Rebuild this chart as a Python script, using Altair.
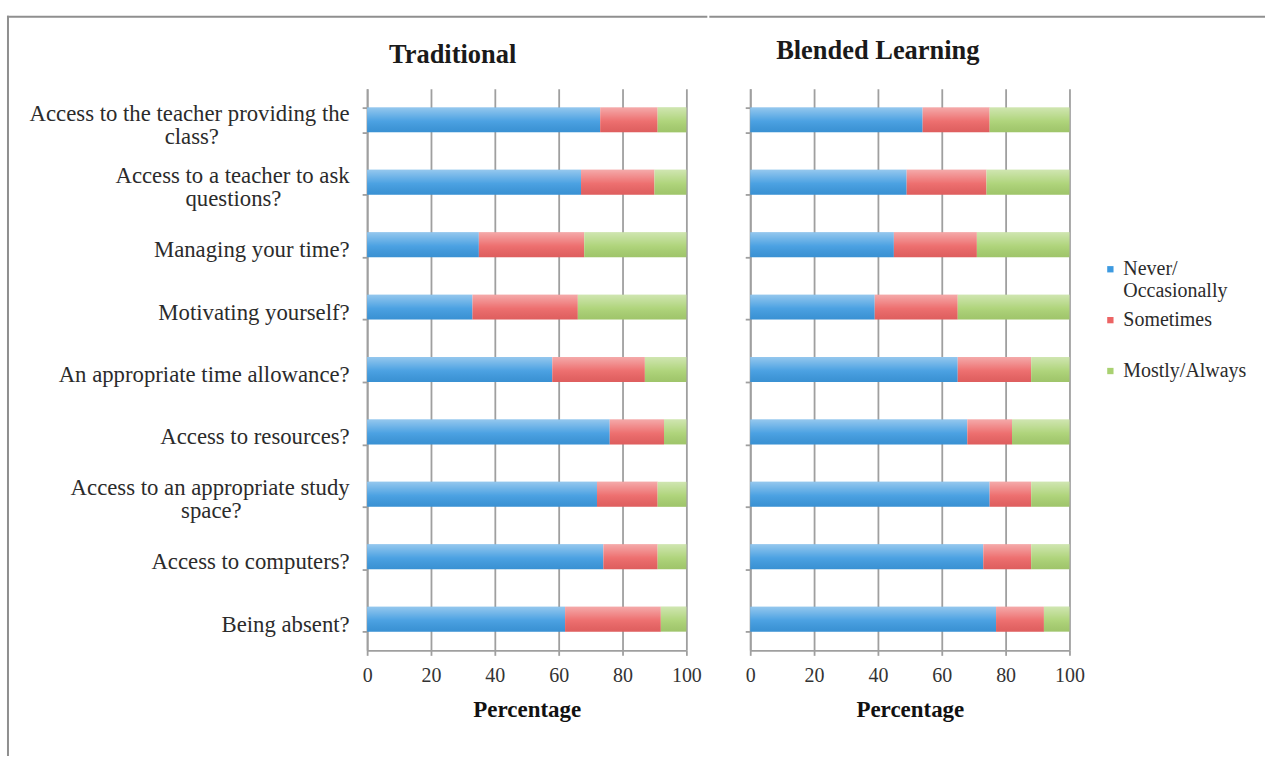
import json
import altair as alt
import pandas as pd

# ---------------- data ----------------
categories = [
    "Access to the teacher providing the class?",
    "Access to a teacher to ask questions?",
    "Managing your time?",
    "Motivating yourself?",
    "An appropriate time allowance?",
    "Access to resources?",
    "Access to an appropriate study space?",
    "Access to computers?",
    "Being absent?",
]
series = ["Never/ Occasionally", "Sometimes", "Mostly/Always"]
series_colors = ["#3d9ae0", "#ec6464", "#a9d171"]

trad_never = [73, 67, 35, 33, 58, 76, 72, 74, 62]
trad_sometimes = [18, 23, 33, 33, 29, 17, 19, 17, 30]
trad_mostly = [9, 10, 32, 34, 13, 7, 9, 9, 8]

blend_never = [54, 49, 45, 39, 65, 68, 75, 73, 77]
blend_sometimes = [21, 25, 26, 26, 23, 14, 13, 15, 15]
blend_mostly = [25, 26, 29, 35, 12, 18, 12, 12, 8]

panel_titles = ["Traditional", "Blended Learning"]
x_ticks = [0, 20, 40, 60, 80, 100]

NB = "\u00a0"
ZW = "\u200b"
wrapped_labels = {
    categories[0]: ["Access to the teacher providing the", "class?" + NB * 23 + ZW],
    categories[1]: ["Access to a teacher to ask", "questions?" + NB * 12 + ZW],
    categories[6]: ["Access to an appropriate study", "space?" + NB * 19 + ZW],
}


def long_frame(never, sometimes, mostly):
    rows = []
    for i, cat in enumerate(categories):
        for k, (name, vals) in enumerate(zip(series, [never, sometimes, mostly])):
            rows.append({"category": cat, "series": name, "order": k, "value": vals[i]})
    return pd.DataFrame(rows)


df_trad = long_frame(trad_never, trad_sometimes, trad_mostly)
df_blend = long_frame(blend_never, blend_sometimes, blend_mostly)

label_expr = "datum.label"
for k, v in wrapped_labels.items():
    label_expr = f"datum.label === {json.dumps(k, ensure_ascii=False)} ? {json.dumps(v, ensure_ascii=False)} : ({label_expr})"
wrapped_test = "indexof(" + json.dumps(list(wrapped_labels.keys())) + ", datum.value) >= 0"

FONT = "Liberation Serif"
GRID = "#9f9f9f"
FRAME = "#8f8f8f"

shade = alt.Gradient(
    gradient="linear",
    x1=0, x2=0, y1=0, y2=1,
    stops=[
        alt.GradientStop(color="rgba(255,255,255,0.45)", offset=0),
        alt.GradientStop(color="rgba(255,255,255,0.08)", offset=0.55),
        alt.GradientStop(color="rgba(0,0,0,0.06)", offset=1),
    ],
)

one_row = alt.Data(values=[{"k": 0}])


def frame_rule(**enc):
    return alt.Chart(one_row).mark_rule(color=FRAME, strokeWidth=2, strokeCap="square").encode(**enc)


def panel(df, title, left, title_dx, title_offset, extras):
    if left:
        y_axis = alt.Axis(
            title=None, labelExpr=label_expr, labelFont=FONT, labelFontSize=22.8,
            labelColor="#2b2b2b", labelLimit=400, labelPadding=13,
            labelOffset={"condition": {"test": wrapped_test, "value": -6.5}, "value": 5},
            labelLineHeight=23, tickSize=5, tickColor=GRID, tickWidth=1.8,
            domainColor=GRID, domainWidth=1.8, tickBand="extent",
            minExtent=360, maxExtent=360,
        )
    else:
        y_axis = alt.Axis(
            title=None, labels=False, tickSize=5, tickColor=GRID, tickWidth=1.8,
            domainColor=GRID, domainWidth=1.8, tickBand="extent",
            minExtent=5, maxExtent=5,
        )
    x_axis = alt.Axis(
        values=x_ticks, grid=True, gridColor=GRID, gridWidth=1.8,
        tickColor=GRID, tickWidth=1.8, tickSize=5, domainColor=GRID, domainWidth=1.8,
        labelFont=FONT, labelFontSize=20, labelColor="#333", labelPadding=10,
        labelFlush=False,
        title="Percentage", titleFont=FONT, titleFontSize=23, titleFontWeight="bold",
        titleColor="#111", titlePadding=13,
    )
    y_enc = alt.Y(
        "category:N", sort=categories,
        scale=alt.Scale(paddingInner=0.6, paddingOuter=0.3), axis=y_axis,
    )
    x_scale = alt.Scale(domain=[0, 100], nice=False)
    base = alt.Chart(df)
    bars = base.mark_bar().encode(
        y=y_enc,
        x=alt.X("value:Q", stack="zero", scale=x_scale, axis=x_axis),
        color=alt.Color(
            "series:N",
            scale=alt.Scale(domain=series, range=series_colors),
            legend=alt.Legend(
                title=None, orient="none", legendX=735, legendY=171,
                labelFont=FONT, labelFontSize=20, labelColor="#2b2b2b",
                labelExpr="indexof(datum.label, ' ') >= 0 ? split(datum.label, ' ') : [datum.label, '']",
                symbolType="square", symbolSize=40, symbolStrokeWidth=0,
                labelOffset=3, rowPadding=9, padding=0,
            ),
        ),
        order=alt.Order("order:Q"),
    )
    gloss = base.mark_bar(color=shade).encode(
        y=y_enc,
        x=alt.X("sum(value):Q", scale=x_scale, axis=x_axis),
    )
    return alt.layer(bars, gloss, *extras).properties(
        width=320, height=563,
        title=alt.TitleParams(
            text=title, anchor="start", frame="group", dx=title_dx,
            font=FONT, fontSize=26.5, fontWeight="bold", color="#1a1a1a", offset=title_offset,
        ),
    )


left_frame = [
    frame_rule(x=alt.value(-360), y=alt.value(-72), y2=alt.value(668)),
    frame_rule(x=alt.value(-360), x2=alt.value(340), y=alt.value(-72)),
]
right_frame = [
    frame_rule(x=alt.value(-40), x2=alt.value(515), y=alt.value(-72)),
]

left = panel(df_trad, panel_titles[0], True, 22, -53, left_frame)
right = panel(df_blend, panel_titles[1], False, 26, -49, right_frame)

chart = (
    alt.hconcat(left, right, spacing=0)
    .resolve_scale(color="shared")
    .properties(padding={"left": 6, "top": 14, "right": 0, "bottom": 0}, background="white")
    .configure_view(stroke=None)
)

chart.save("out.html", embed_options={"renderer": "svg", "actions": False})
